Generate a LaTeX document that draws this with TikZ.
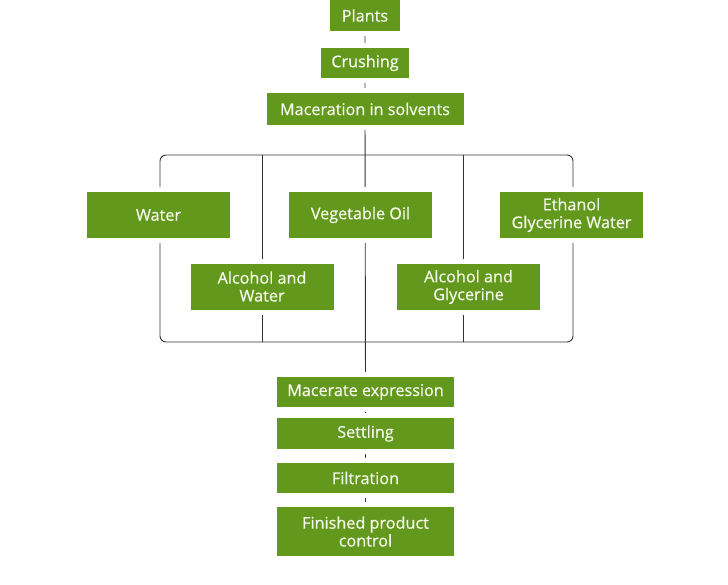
\documentclass[tikz,border=0pt]{standalone}
\usepackage{fontspec}
\setmainfont{Open Sans}
\newfontfamily\boxfont{Open Sans}[FakeBold=0.6]
\usepackage{xcolor}
\usetikzlibrary{positioning,backgrounds}
\definecolor{leaf}{HTML}{62991C}
\definecolor{leaftext}{HTML}{F4F8EA}
\definecolor{wire}{HTML}{333333}
\tikzset{
  gbox/.style={fill=leaf,text=leaftext,align=center,inner sep=0pt,
    preaction={draw=white,line width=5pt},
    font=\boxfont\fontsize{8.1}{8.9}\selectfont},
  wline/.style={line width=0.45pt,draw=wire}
}
\begin{document}
\begin{tikzpicture}[x=0.5pt,y=-0.5pt]
  \useasboundingbox (0,0) rectangle (728,584);
  % main chain
  \node[gbox,minimum width=35pt,minimum height=15.5pt] (plants) at (365,15.5) {Plants};
  \node[gbox,minimum width=44pt,minimum height=15pt] (crush) at (365,63) {Crushing};
  \node[gbox,minimum width=98.5pt,minimum height=16pt] (macer) at (365,109) {Maceration in solvents};
  % solvents
  \node[gbox,minimum width=71.5pt,minimum height=23pt] (water) at (158.5,215) {Water};
  \node[gbox,minimum width=71.5pt,minimum height=23pt] (oil) at (360.5,215) {Vegetable Oil};
  \node[gbox,minimum width=71.5pt,minimum height=23pt] (etoh) at (571.5,215) {Ethanol\\Glycerine Water};
  \node[gbox,minimum width=71.5pt,minimum height=23pt] (alcwat) at (262,286.5) {Alcohol and\\Water};
  \node[gbox,minimum width=71.5pt,minimum height=23pt] (alcgly) at (468.5,287) {Alcohol and\\Glycerine};
  % after maceration
  \node[gbox,minimum width=88.5pt,minimum height=15pt] (expr) at (365.5,392) {Macerate expression};
  \node[gbox,minimum width=88.5pt,minimum height=15.5pt] (settle) at (365.5,433.5) {Settling};
  \node[gbox,minimum width=88.5pt,minimum height=15pt] (filt) at (365.5,478) {Filtration};
  \node[gbox,minimum width=88.5pt,minimum height=24.5pt] (control) at (365.5,531.5) {Finished product\\control};
  % frame round the solvents
  \coordinate (ftl) at (160,155);
  \coordinate (fbr) at (573,342);
  \coordinate (aw) at (262,155);
  \coordinate (ag) at (463,155);
  \begin{scope}[on background layer]
    \fill[white] (0,0) rectangle (728,584);
    \draw[wline] (plants) -- (crush) -- (macer) -- (expr) -- (settle) -- (filt) -- (control);
    \draw[wline,rounded corners=3pt] (ftl) rectangle (fbr);
    \draw[wline] (aw) -- (aw |- fbr);
    \draw[wline] (ag) -- (ag |- fbr);
  \end{scope}
\end{tikzpicture}
\end{document}
